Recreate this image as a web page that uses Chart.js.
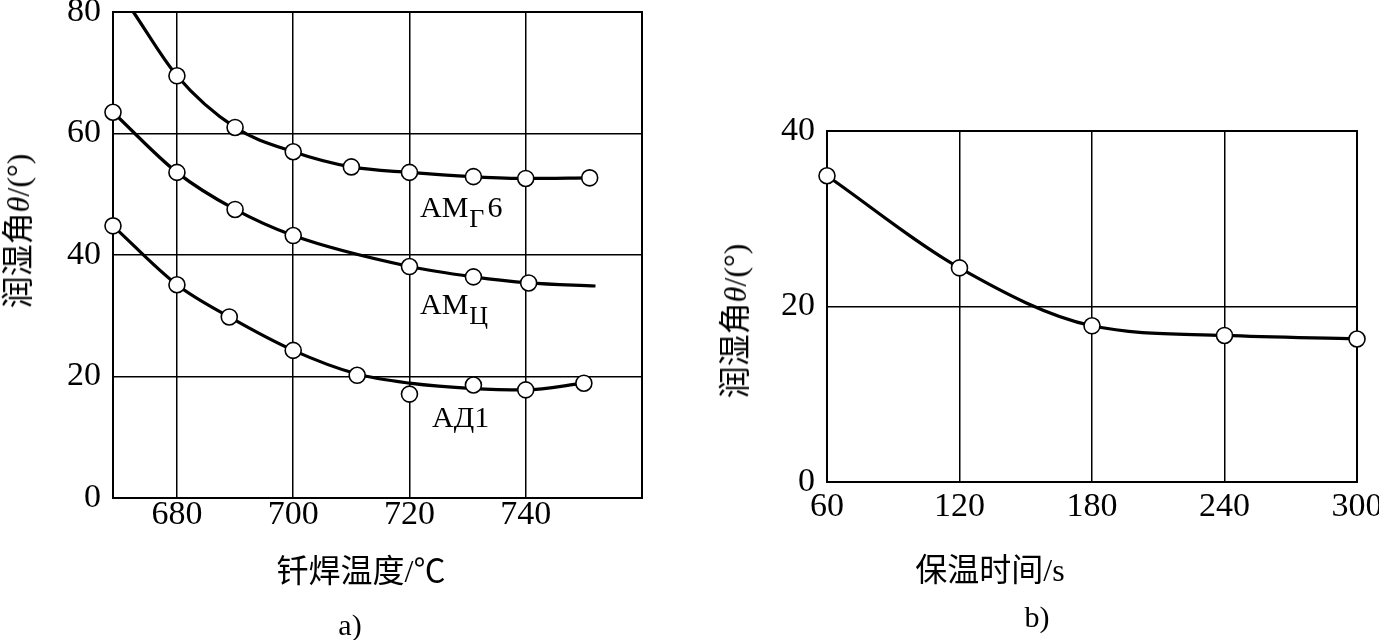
<!DOCTYPE html>
<html>
<head>
<meta charset="utf-8">
<script src="https://cdn.jsdelivr.net/npm/chart.js@4.4.0/dist/chart.umd.min.js"></script>
<style>
  body { margin: 0; background: #fff; }
  #page { position: relative; width: 1379px; height: 640px; overflow: hidden; font-family: "Liberation Serif", "Noto Sans CJK SC", serif; color: #000; }
  .box { position: absolute; }
  .txt { position: absolute; white-space: nowrap; line-height: 1; transform: translate(-50%, -50%); }
  .ytitle { position: absolute; white-space: nowrap; line-height: 1; font-size: 32px; transform: translate(-50%, -50%) rotate(-90deg); }
  .curve-label { position: absolute; white-space: nowrap; font-size: 30px; line-height: 30px; }
  .sub { position: relative; top: 10px; font-size: 26px; margin: 0 3px 0 1px; }
</style>
</head>
<body>
<div id="page">
  <div class="box" style="left:0;top:0;width:680px;height:640px"><canvas id="tempChart"></canvas></div>
  <div class="box" style="left:690px;top:0;width:689px;height:640px"><canvas id="timeChart"></canvas></div>

  <div class="ytitle" style="left:18px;top:231px">润湿角<i>θ</i>/(°)</div>
  <div class="txt" style="left:361px;top:571px;font-size:32px">钎焊温度/℃</div>
  <div class="txt" style="left:350px;top:625px;font-size:30px">a)</div>

  <div class="curve-label" style="left:420px;top:192px">AM<span class="sub">Γ</span>6</div>
  <div class="curve-label" style="left:420px;top:289px">AM<span class="sub">Ц</span></div>
  <div class="curve-label" style="left:432px;top:402px">AД1</div>

  <div class="ytitle" style="left:735px;top:321px">润湿角<i>θ</i>/(°)</div>
  <div class="txt" style="left:990px;top:570px;font-size:32px">保温时间/s</div>
  <div class="txt" style="left:1037px;top:617px;font-size:30px">b)</div>
</div>
<script>
// a) wetting angle vs brazing temperature
const tempTicks = [680, 700, 720, 740];

const amg6Temp = [680, 690, 700, 710, 720, 731, 740, 751];
const amg6Angle = [69.5, 61, 57, 54.5, 53.6, 52.9, 52.6, 52.7];
const amg6CurveTemp = [672.5, 680, 690, 700, 710, 720, 731, 740, 751];
const amg6CurveAngle = [80, 69.5, 61, 57, 54.5, 53.6, 52.9, 52.6, 52.7];

const amcTemp = [669, 680, 690, 700, 720, 731, 740.5];
const amcAngle = [63.5, 53.6, 47.5, 43.2, 38.1, 36.4, 35.4];
const amcCurveTemp = [669, 680, 690, 700, 720, 731, 740.5, 752];
const amcCurveAngle = [63.5, 53.6, 47.5, 43.2, 38.1, 36.4, 35.4, 34.9];

const ad1Temp = [669, 680, 689, 700, 711, 720, 731, 740, 750];
const ad1Angle = [44.8, 35.1, 29.8, 24.3, 20.2, 17.1, 18.6, 17.8, 18.9];
const ad1CurveTemp = [669, 680, 689, 700, 711, 720, 731, 740, 750];
const ad1CurveAngle = [44.8, 35.1, 29.8, 24.3, 20.4, 18.9, 18.0, 17.8, 18.9];

// b) wetting angle vs holding time
const holdTime = [60, 120, 180, 240, 300];
const holdAngle = [34.9, 24.4, 17.8, 16.7, 16.3];

const pts = (xs, ys) => xs.map((x, i) => ({ x: x, y: ys[i] }));
const tickFont = { family: 'Liberation Serif', size: 34 };

const frame = {
  id: 'frame',
  beforeDatasetsDraw(chart) {
    const { ctx, chartArea: a } = chart;
    ctx.save();
    ctx.strokeStyle = '#000';
    ctx.lineWidth = 2;
    ctx.strokeRect(a.left, a.top, a.right - a.left, a.bottom - a.top);
    ctx.restore();
  }
};

function curve(data) {
  return {
    data: data,
    showLine: true,
    borderColor: '#000',
    borderWidth: 3.2,
    pointRadius: 0,
    cubicInterpolationMode: 'monotone',
    clip: false,
    order: 1
  };
}

function markers(data) {
  return {
    data: data,
    showLine: false,
    pointRadius: 8,
    pointBackgroundColor: '#fff',
    pointBorderColor: '#000',
    pointBorderWidth: 1.6,
    clip: false,
    order: 0
  };
}

function axes(o) {
  return {
    x: {
      type: 'linear',
      min: o.xMin, max: o.xMax,
      afterBuildTicks: s => { s.ticks = o.xTicks.map(v => ({ value: v })); },
      afterFit: s => { s.height = o.xHeight; s.paddingLeft = 0; s.paddingRight = 0; },
      grid: { color: '#000', lineWidth: 1.5, drawTicks: false },
      border: { display: false },
      ticks: { color: '#000', font: tickFont, padding: o.xPad, maxRotation: 0, autoSkip: false }
    },
    y: {
      min: o.yMin, max: o.yMax,
      afterFit: s => { s.width = o.yWidth; s.paddingTop = 0; s.paddingBottom = 0; },
      grid: { color: '#000', lineWidth: 1.5, drawTicks: false },
      border: { display: false },
      ticks: { color: '#000', font: tickFont, padding: 12, stepSize: 20 }
    }
  };
}

const common = {
  responsive: true,
  maintainAspectRatio: false,
  animation: false,
  events: [],
  plugins: { legend: { display: false }, tooltip: { enabled: false } }
};

new Chart(document.getElementById('tempChart'), {
  type: 'scatter',
  data: {
    datasets: [
      markers(pts(amg6Temp, amg6Angle)),
      markers(pts(amcTemp, amcAngle)),
      markers(pts(ad1Temp, ad1Angle)),
      curve(pts(amg6CurveTemp, amg6CurveAngle)),
      curve(pts(amcCurveTemp, amcCurveAngle)),
      curve(pts(ad1CurveTemp, ad1CurveAngle))
    ]
  },
  options: Object.assign({}, common, {
    layout: { padding: { left: 0, top: 12, right: 38, bottom: 0 }, autoPadding: false },
    scales: axes({ xMin: 669, xMax: 760, xTicks: tempTicks, xHeight: 142, xPad: -3, yMin: 0, yMax: 80, yWidth: 113 })
  }),
  plugins: [frame]
});

new Chart(document.getElementById('timeChart'), {
  type: 'scatter',
  data: {
    datasets: [
      markers(pts(holdTime, holdAngle)),
      curve(pts(holdTime, holdAngle))
    ]
  },
  options: Object.assign({}, common, {
    layout: { padding: { left: 0, top: 131, right: 22, bottom: 0 }, autoPadding: false },
    scales: axes({ xMin: 60, xMax: 300, xTicks: holdTime, xHeight: 158, xPad: 5, yMin: 0, yMax: 40, yWidth: 137 })
  }),
  plugins: [frame]
});
</script>
</body>
</html>
